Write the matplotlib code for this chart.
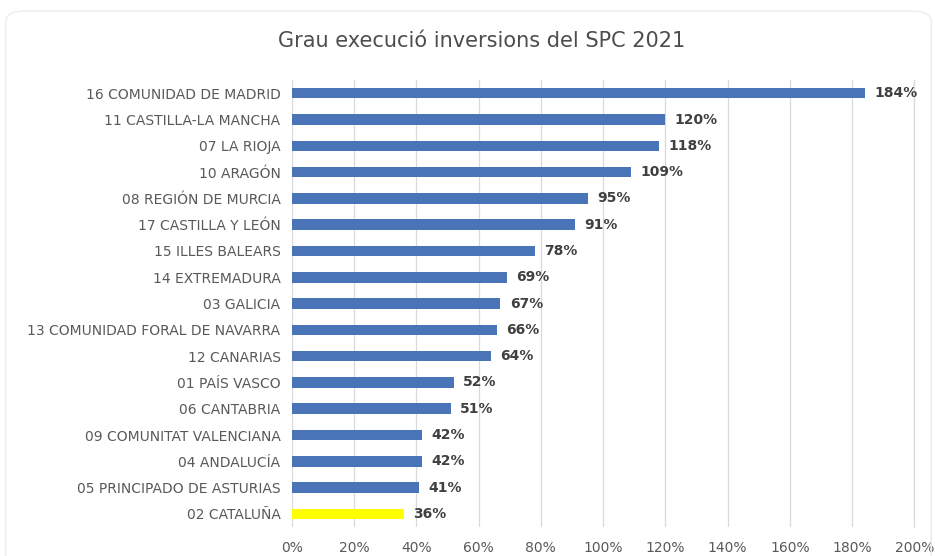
import matplotlib.pyplot as plt
from matplotlib.patches import FancyBboxPatch

regions = ["16 COMUNIDAD DE MADRID", "11 CASTILLA-LA MANCHA", "07 LA RIOJA", "10 ARAGÓN",
           "08 REGIÓN DE MURCIA", "17 CASTILLA Y LEÓN", "15 ILLES BALEARS", "14 EXTREMADURA",
           "03 GALICIA", "13 COMUNIDAD FORAL DE NAVARRA", "12 CANARIAS", "01 PAÍS VASCO",
           "06 CANTABRIA", "09 COMUNITAT VALENCIANA", "04 ANDALUCÍA", "05 PRINCIPADO DE ASTURIAS",
           "02 CATALUÑA"]
execution = [184, 120, 118, 109, 95, 91, 78, 69, 67, 66, 64, 52, 51, 42, 42, 41, 36]
highlight = "02 CATALUÑA"
x_ticks = [0, 20, 40, 60, 80, 100, 120, 140, 160, 180, 200]

plt.rcParams['font.family'] = ['Liberation Sans Narrow', 'DejaVu Sans']

fig = plt.figure(figsize=(9.35, 5.56), dpi=100)
# faint chart border
fig.patches.append(FancyBboxPatch((0.006, -0.05), 0.99, 1.03, boxstyle="round,pad=0,rounding_size=0.02",
                                  transform=fig.transFigure, fill=False, edgecolor='#ececec', lw=1))
ax = fig.add_axes([0.312, 0.052, 0.666, 0.804])

pos = list(range(len(regions)))[::-1]
colors = ['#FFFF00' if r == highlight else '#4A74B8' for r in regions]
ax.barh(pos, execution, height=0.4, color=colors, zorder=3)

for y, v in zip(pos, execution):
    ax.text(v + 3, y, f"{v}%", va='center', ha='left', fontsize=10, fontweight='bold', color='#404040')

ax.set_yticks(pos)
ax.set_yticklabels(regions, fontsize=10, color='#595959')
ax.set_xticks(x_ticks)
ax.set_xticklabels([f"{t}%" for t in x_ticks], fontsize=10, color='#595959')
ax.set_xlim(0, 200)
ax.set_ylim(-0.5, len(regions) - 0.5)
ax.grid(axis='x', color='#d9d9d9', lw=0.9, zorder=0)
ax.axvline(200, color='#d9d9d9', lw=0.9, zorder=0, clip_on=False)
for s in ax.spines.values():
    s.set_visible(False)
ax.tick_params(length=0, pad=8)
ax.tick_params(axis='x', pad=10)

fig.suptitle("Grau execució inversions del SPC 2021", x=0.515, y=0.945, fontsize=15, color='#4d4d4d')

plt.savefig('out.png', dpi=100)
